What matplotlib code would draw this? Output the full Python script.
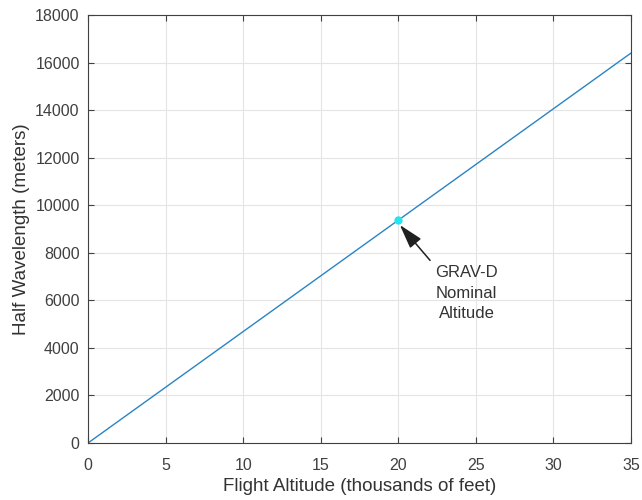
import matplotlib.pyplot as plt

plt.rcParams['font.family'] = ['Liberation Sans', 'DejaVu Sans']

# flight altitude (thousands of feet) vs half wavelength (m)
altitude_kft = [0, 35]
half_wavelength = [0, 16400]
nominal_alt = [20]
nominal_hw = [9370]

fig = plt.figure(figsize=(6.42, 5), dpi=100)
ax = fig.add_axes([88 / 642, 57 / 500, 543 / 642, 428 / 500])

ax.plot(altitude_kft, half_wavelength, color='#2a84c2', lw=1)
ax.plot(nominal_alt, nominal_hw, 'o', color='#22e6f0', ms=5)

# arrow and label for the nominal altitude
ax.annotate('', xy=(20.1, 9170), xytext=(22.05, 7680),
            arrowprops=dict(arrowstyle='-|>,head_length=0.75,head_width=0.22',
                            color='#202020', lw=1.1, mutation_scale=20,
                            shrinkA=0, shrinkB=0))
ax.text(24.4, 6300, 'GRAV-D\nNominal\nAltitude', ha='center', va='center',
        fontsize=12, color='#333333', linespacing=1.45)

ax.set_xlim(0, 35)
ax.set_ylim(0, 18000)
ax.set_xticks(range(0, 36, 5))
ax.set_yticks(range(0, 18001, 2000))
ax.grid(True, color='#e4e4e4', lw=0.8)
ax.tick_params(direction='in', top=True, right=True, labelsize=11.5,
               colors='#404040', length=4)
ax.tick_params(axis='x', pad=10.5)
ax.tick_params(axis='y', pad=6)
for s in ax.spines.values():
    s.set_color('#404040')
    s.set_linewidth(0.8)

ax.set_xlabel('Flight Altitude (thousands of feet)', fontsize=13.5, color='#333333', labelpad=4)
ax.set_ylabel('Half Wavelength (meters)', fontsize=13.5, color='#333333', labelpad=4)

fig.savefig('out.png', dpi=100)
